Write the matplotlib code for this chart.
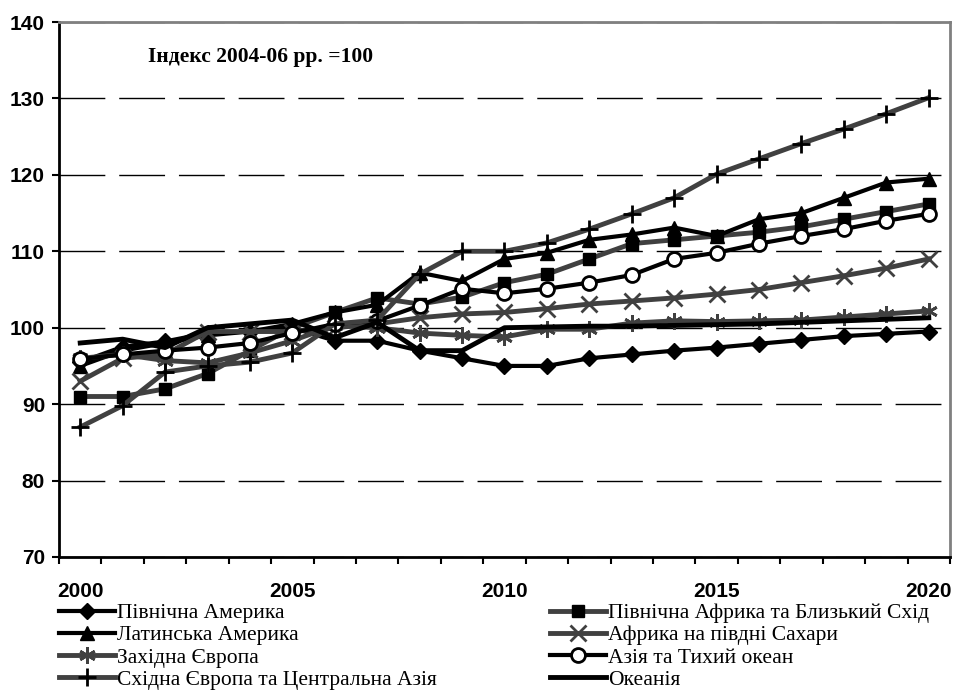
import matplotlib
matplotlib.use("Agg")
from matplotlib import pyplot as plt
from matplotlib.font_manager import FontProperties
import numpy as np

years = list(range(2000, 2021))

north_america = [95.5, 97.5, 98.2, 99.3, 99.5, 100.0, 98.3, 98.3, 97.0, 96.0, 95.0,
                 95.0, 96.0, 96.5, 97.0, 97.4, 97.9, 98.4, 98.9, 99.2, 99.5]
n_africa_me = [91.0, 91.0, 92.0, 94.0, 97.0, 100.0, 102.0, 103.9, 103.1, 104.0, 105.9,
               107.0, 109.0, 111.0, 111.5, 112.0, 112.5, 113.2, 114.2, 115.2, 116.2]
latin_america = [95.0, 97.0, 98.0, 99.0, 99.5, 100.5, 102.0, 103.0, 107.2, 106.1, 109.0,
                 109.8, 111.5, 112.2, 113.1, 112.0, 114.2, 115.0, 117.0, 119.0, 119.5]
subsaharan = [93.0, 96.0, 96.5, 99.5, 99.5, 99.5, 100.0, 100.5, 101.3, 101.8, 102.0,
              102.5, 103.1, 103.5, 103.9, 104.4, 105.0, 105.9, 106.8, 107.8, 109.0]
west_europe = [96.0, 96.5, 95.7, 95.4, 96.7, 98.3, 100.3, 100.0, 99.3, 99.0, 98.8,
               99.8, 99.8, 100.6, 100.9, 100.8, 100.9, 101.0, 101.4, 101.8, 102.2]
asia_pacific = [95.9, 96.5, 97.0, 97.4, 98.0, 99.3, 100.5, 100.9, 102.9, 105.1, 104.5,
                105.1, 105.9, 106.9, 109.0, 109.8, 111.0, 112.0, 112.9, 114.0, 114.9]
east_europe = [87.0, 89.8, 94.2, 95.0, 95.5, 96.7, 100.5, 101.0, 107.0, 110.0, 110.0,
               111.1, 112.9, 114.9, 117.0, 120.1, 122.1, 124.1, 126.0, 128.0, 130.1]
oceania = [98.0, 98.5, 97.4, 100.0, 100.5, 101.0, 98.7, 100.7, 97.0, 97.0, 100.0,
           100.1, 100.2, 100.2, 100.3, 100.4, 100.5, 100.7, 100.9, 101.1, 101.3]

labels = ["Північна Америка", "Північна Африка та Близький Схід",
          "Латинська Америка", "Африка на півдні Сахари",
          "Західна Європа", "Азія та Тихий океан",
          "Східна Європа та Центральна Азія", "Океанія"]

gray = "#404040"
x = np.arange(len(years))

fig = plt.figure(figsize=(9.59, 6.9), dpi=100)
ax = fig.add_axes([59 / 959, 1 - 557 / 690, 891 / 959, 535 / 690])

h = {}
h[0], = ax.plot(x, north_america, color="black", lw=3, marker="D", ms=8,
                mfc="black", mec="black", label=labels[0])
h[1], = ax.plot(x, n_africa_me, color=gray, lw=3.5, marker="s", ms=9,
                mfc="black", mec="black", label=labels[1])
h[2], = ax.plot(x, latin_america, color="black", lw=3, marker="^", ms=10,
                mfc="black", mec="black", label=labels[2])
h[3], = ax.plot(x, subsaharan, color=gray, lw=3.5, marker="x", ms=11, mew=2,
                mec=gray, label=labels[3])
h[4], = ax.plot(x, west_europe, color=gray, lw=3.5, marker=(6, 2, 0), ms=12, mew=2,
                mec=gray, label=labels[4])
h[5], = ax.plot(x, asia_pacific, color="black", lw=3, marker="o", ms=10, mew=2,
                mfc="white", mec="black", label=labels[5])
h[6], = ax.plot(x, east_europe, color=gray, lw=3.5, marker="+", ms=13, mew=2,
                mec="black", label=labels[6])
h[7], = ax.plot(x, oceania, color="black", lw=3.5, label=labels[7])

ax.set_xlim(-0.5, 20.5)
ax.set_ylim(70, 140)
ax.set_yticks(np.arange(70, 141, 10))
ax.set_xticks(x[::5])
ax.set_xticklabels([str(y) for y in years[::5]])
ax.set_xticks(np.arange(-0.5, 20.6, 1), minor=True)
ax.tick_params(axis="x", which="major", length=0, pad=18)
ax.tick_params(axis="x", which="minor", length=5, width=1.5, direction="out")
ax.tick_params(axis="y", length=5, width=1.5, direction="out", pad=5)
for lab in ax.get_xticklabels() + ax.get_yticklabels():
    lab.set_fontfamily("Liberation Sans")
    lab.set_fontweight("bold")
    lab.set_fontsize(15)

ax.set_axisbelow(True)
ax.yaxis.grid(True, color="black", lw=1, linestyle=(0, (33, 10)))
ax.spines["left"].set_linewidth(2)
ax.spines["bottom"].set_linewidth(2)
ax.spines["top"].set_color("#808080")
ax.spines["right"].set_color("#808080")
ax.spines["top"].set_linewidth(2)
ax.spines["right"].set_linewidth(2)

fig.text(148 / 959, 1 - 57 / 690, "Індекс 2004-06 рр. =100", family="Liberation Serif",
         fontweight="bold", fontsize=15.5, ha="left", va="center")

leg_font = FontProperties(family="Liberation Serif", size=15.5)
leg_kw = dict(frameon=False, prop=leg_font,
              handlelength=2.6, handletextpad=0.1, labelspacing=0.1,
              borderpad=0, borderaxespad=0, loc="upper left")
fig.legend([h[0], h[2], h[4], h[6]], [labels[0], labels[2], labels[4], labels[6]],
           bbox_to_anchor=(59 / 959, 1 - 603 / 690), **leg_kw)
fig.legend([h[1], h[3], h[5], h[7]], [labels[1], labels[3], labels[5], labels[7]],
           bbox_to_anchor=(550 / 959, 1 - 603 / 690), **leg_kw)

fig.savefig("out.png", dpi=100)
